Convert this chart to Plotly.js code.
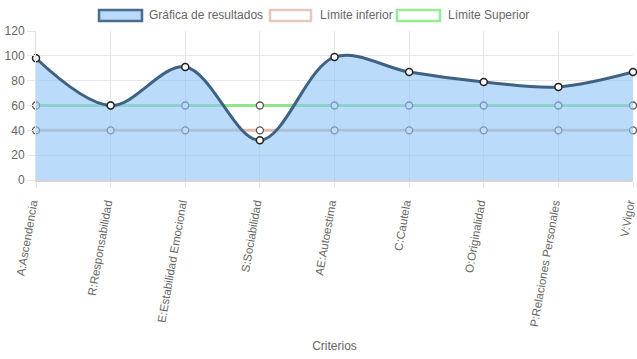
<!DOCTYPE html>
<html><head><meta charset="utf-8">
<script src="https://cdn.plot.ly/plotly-3.0.1.min.js"></script>
<style>html,body{margin:0;padding:0;background:#fff}#chart{width:637px;height:359px}</style>
</head><body><div id="chart"></div>
<script>
const categories = ["A:Ascendencia","R:Responsabilidad","E:Estabilidad Emocional","S:Sociabilidad","AE:Autoestima","C:Cautela","O:Originalidad","P:Relaciones Personales","V:Vigor"];
const resultados = [98, 60, 91, 32, 99, 87, 79, 75, 87];
const limiteInferior = [40, 40, 40, 40, 40, 40, 40, 40, 40];
const limiteSuperior = [60, 60, 60, 60, 60, 60, 60, 60, 60];
const seriesNames = ["Gráfica de resultados", "Límite inferior", "Límite Superior"];
const yTicks = [0, 20, 40, 60, 80, 100, 120];

const cMain = "#3f6283", cFill = "rgba(140,195,245,0.6)";
const cLow = "rgb(222,188,178)", cUp = "rgb(140,230,140)";

const traces = [
  {x: categories, y: limiteInferior, name: seriesNames[1], type: "scatter", mode: "lines+markers",
   line: {color: cLow, width: 3}, marker: {size: 7, color: "#fff", line: {color: "#555", width: 1.3}}, cliponaxis: false},
  {x: categories, y: limiteSuperior, name: seriesNames[2], type: "scatter", mode: "lines+markers",
   line: {color: cUp, width: 3}, marker: {size: 7, color: "#fff", line: {color: "#555", width: 1.3}}, cliponaxis: false},
  {x: categories, y: resultados, name: seriesNames[0], type: "scatter", mode: "lines+markers",
   line: {color: cMain, width: 3, shape: "spline", smoothing: 1}, fill: "tozeroy", fillcolor: cFill,
   marker: {size: 7, color: "#fff", line: {color: "#222", width: 1.5}}, cliponaxis: false}
];

const legendItems = [
  {x0: 99, x1: 142, tx: 147, fill: "rgb(185,218,248)", border: "#4a6c8e", label: seriesNames[0]},
  {x0: 270, x1: 311, tx: 318, fill: "#fff", border: "rgb(230,200,190)", label: seriesNames[1]},
  {x0: 397, x1: 440, tx: 446, fill: "#fff", border: "rgb(150,236,150)", label: seriesNames[2]}
];
const W = 637, H = 359;
const shapes = legendItems.map(l => ({type: "rect", xref: "paper", yref: "paper",
  x0: (l.x0 - 36) / 597, x1: (l.x1 - 36) / 597, y0: (180 - 10) / 149, y1: (180 - 21) / 149,
  fillcolor: l.fill, line: {color: l.border, width: 2.5}}));
const annotations = legendItems.map(l => ({xref: "paper", yref: "paper", x: (l.tx - 36) / 597, y: (180 - 15.5) / 149,
  xanchor: "left", yanchor: "middle", text: l.label, showarrow: false, font: {size: 12, color: "#666"}}));

const layout = {
  width: W, height: H, margin: {l: 36, r: 4, t: 31, b: 179},
  paper_bgcolor: "#fff", plot_bgcolor: "#fff", showlegend: false,
  font: {family: "Liberation Sans, Arial, sans-serif", size: 12, color: "#666"},
  xaxis: {type: "category", range: [0, 8], tickangle: -80, showgrid: true, gridcolor: "#e6e6e6",
    ticks: "outside", ticklen: 6, tickcolor: "#e6e6e6", showline: true, linecolor: "#d6d6d6", linewidth: 2,
    ticklabelshift: -4, ticklabelstandoff: 4, tickfont: {size: 11.5},
    title: {text: "Criterios", font: {size: 12, color: "#666"}, standoff: 15}, automargin: false},
  yaxis: {range: [0, 120], tickvals: yTicks, showgrid: true, gridcolor: "#e6e6e6", zeroline: false,
    ticks: "outside", ticklen: 8, tickcolor: "#e6e6e6", showline: true, linecolor: "#e0e0e0", automargin: false},
  shapes: shapes, annotations: annotations
};
Plotly.newPlot("chart", traces, layout, {displayModeBar: false, staticPlot: true});
</script></body></html>
